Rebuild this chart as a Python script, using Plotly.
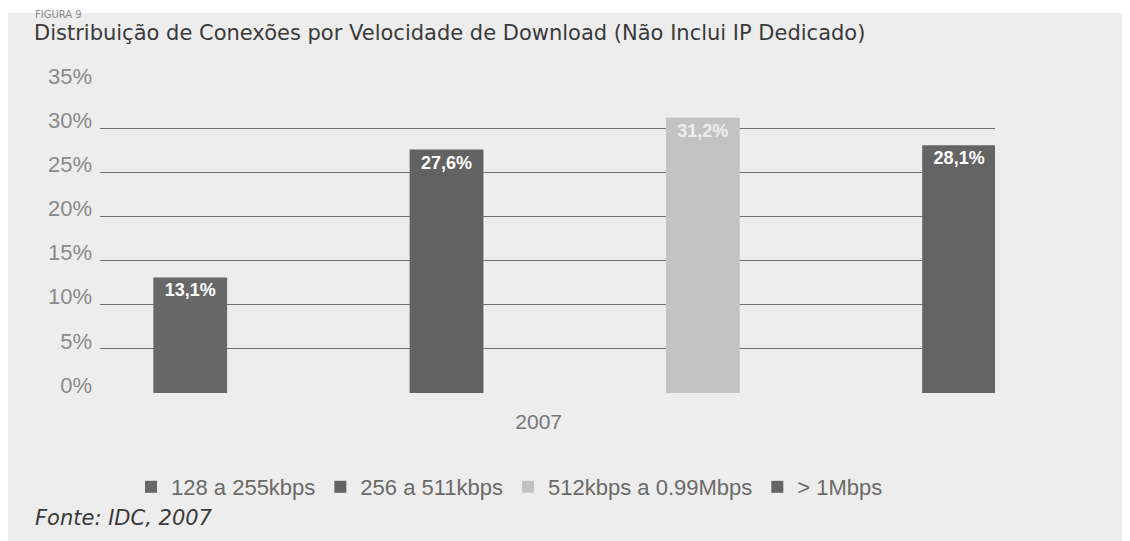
import plotly.graph_objects as go

# ---- data ----
year = ["2007"]
series_names = ["128 a 255kbps", "256 a 511kbps", "512kbps a 0.99Mbps", "> 1Mbps"]
series_values = [13.1, 27.6, 31.2, 28.1]
series_labels = ["13,1%", "27,6%", "31,2%", "28,1%"]
series_colors = ["#686868", "#626262", "#c2c2c2", "#646464"]
label_colors = ["#ffffff", "#ffffff", "#eeeeee", "#ffffff"]
y_ticks = [0, 5, 10, 15, 20, 25, 30, 35]
y_tick_labels = ["0%", "5%", "10%", "15%", "20%", "25%", "30%", "35%"]

title_text = "Distribuição de Conexões por Velocidade de Download (Não Inclui IP Dedicado)"
source_text = "Fonte: IDC, 2007"
figure_text = "FIGURA 9"

# the page adds an 8px body margin; layout numbers below are in figure pixels
OFF = 8
W, H = 1130, 541
ML = 100 - OFF          # plot left edge on screen: 100
MT = 84 - OFF           # plot top on screen: 84
MR = W - (995 - OFF)    # plot right on screen: 995
MB = H - (393 - OFF)    # plot bottom on screen: 393
BG = "#ededed"
plot_h = H - MT - MB
plot_w = W - ML - MR


def py(s):
    """screen row -> paper y"""
    return (H - MB - (s - OFF)) / plot_h


def px(s):
    """screen column -> paper x"""
    return ((s - OFF) - ML) / plot_w


fig = go.Figure()
for name, val, lab, col, lcol in zip(series_names, series_values, series_labels,
                                     series_colors, label_colors):
    fig.add_trace(go.Bar(
        x=year, y=[val], name=name,
        marker=dict(color=col, line=dict(width=0)),
        text=[lab], textposition="inside", insidetextanchor="end",
        textfont=dict(family="Liberation Sans, Arial", size=18, color=lcol,
                      weight="bold"),
        textangle=0,
    ))

fig.update_layout(
    width=W, height=H,
    margin=dict(l=ML, r=MR, t=MT, b=MB, pad=0, autoexpand=False),
    paper_bgcolor=BG, plot_bgcolor=BG,
    barmode="group", bargap=0.0, bargroupgap=0.712,
    showlegend=True,
    legend=dict(
        orientation="h", x=px(131), xanchor="left",
        y=py(487), yanchor="middle",
        font=dict(family="Liberation Sans, Arial", size=22, color="#6a6a6a"),
        bgcolor="rgba(0,0,0,0)", itemwidth=30, traceorder="normal",
    ),
    title=dict(
        text=title_text, x=26 / W, xanchor="left", xref="container",
        y=1 - (33 - OFF) / H, yanchor="middle", yref="container",
        font=dict(family="DejaVu Sans, Verdana", size=21, color="#3a3a3a"),
    ),
    xaxis=dict(
        type="category", range=[-0.463, 0.410],
        showgrid=False, zeroline=False, showline=False,
        ticks="", ticklabelshift=-36, ticklabelstandoff=14,
        tickfont=dict(family="Liberation Sans, Arial", size=21, color="#777777"),
    ),
    yaxis=dict(
        range=[0, 35.03], tickvals=y_ticks, ticktext=y_tick_labels,
        showgrid=True, gridcolor="#6f6f6f", gridwidth=1,
        zeroline=False, showline=False, ticks="",
        ticklabelstandoff=7, ticklabelshift=-8,
        tickfont=dict(family="Liberation Sans, Arial", size=22, color="#8a8a8a"),
    ),
    shapes=[
        dict(type="rect", xref="paper", yref="paper", layer="below",
             x0=px(0), x1=px(W + OFF), y0=py(13), y1=py(0),
             fillcolor="#ffffff", line=dict(width=0)),
    ],
    annotations=[
        dict(text=source_text, xref="paper", yref="paper",
             x=px(33), xanchor="left",
             y=py(518), yanchor="middle", showarrow=False,
             font=dict(family="DejaVu Sans, Verdana", size=21, color="#3a3a3a",
                       style="italic")),
        dict(text=figure_text, xref="paper", yref="paper",
             x=px(33), xanchor="left",
             y=py(14), yanchor="middle", showarrow=False,
             font=dict(family="DejaVu Sans, Verdana", size=10, color="#888888")),
    ],
)

fig.write_html("out.html")
